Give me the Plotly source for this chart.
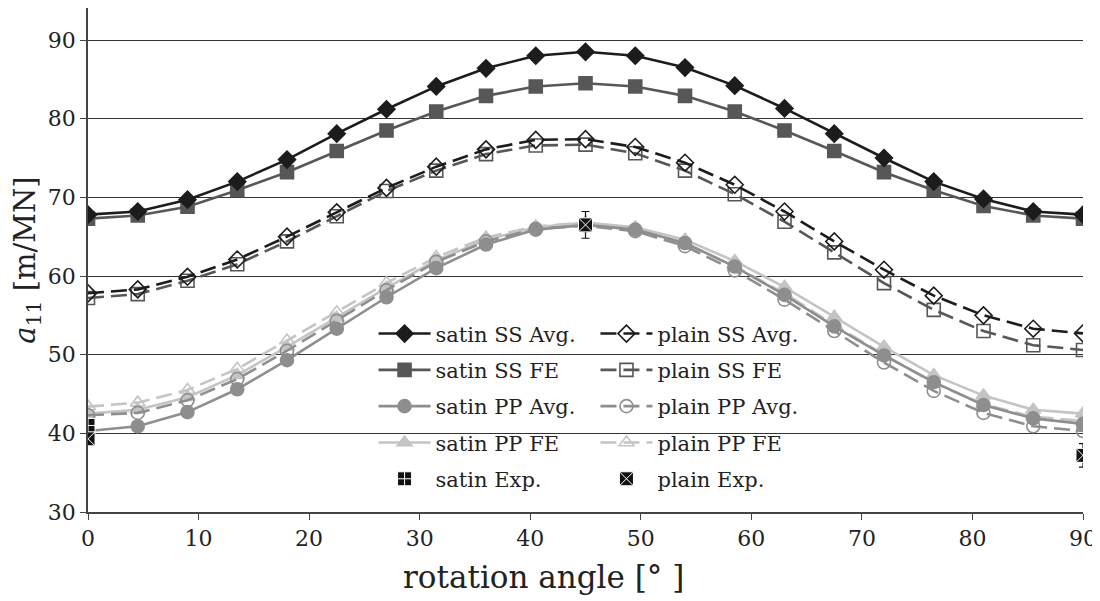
import plotly.graph_objects as go

angles = [0, 4.5, 9, 13.5, 18, 22.5, 27, 31.5, 36, 40.5, 45, 49.5, 54, 58.5, 63, 67.5, 72, 76.5, 81, 85.5, 90]

satin_ss_avg = [67.8, 68.2, 69.7, 72.0, 74.8, 78.1, 81.2, 84.1, 86.4, 88.0, 88.5, 88.0, 86.5, 84.2, 81.3, 78.1, 75.0, 72.0, 69.8, 68.2, 67.8]
satin_ss_fe = [67.3, 67.7, 68.8, 70.9, 73.2, 75.9, 78.5, 80.9, 82.9, 84.1, 84.5, 84.1, 82.9, 80.9, 78.5, 75.9, 73.2, 70.9, 68.9, 67.7, 67.3]
plain_ss_avg = [57.8, 58.3, 59.9, 62.1, 65.0, 68.1, 71.2, 73.9, 76.1, 77.3, 77.4, 76.4, 74.4, 71.6, 68.2, 64.4, 60.8, 57.5, 55.0, 53.3, 52.7]
plain_ss_fe = [57.2, 57.7, 59.4, 61.5, 64.4, 67.6, 70.8, 73.4, 75.5, 76.6, 76.7, 75.6, 73.4, 70.4, 66.9, 63.0, 59.1, 55.7, 53.0, 51.2, 50.6]
satin_pp_avg = [40.3, 40.9, 42.7, 45.6, 49.3, 53.3, 57.3, 61.0, 64.0, 65.9, 66.5, 65.9, 64.2, 61.2, 57.6, 53.6, 49.9, 46.5, 43.6, 41.9, 41.2]
satin_pp_fe = [42.5, 43.0, 44.6, 47.4, 51.0, 54.7, 58.5, 62.0, 64.6, 66.2, 66.8, 66.2, 64.6, 61.9, 58.6, 54.8, 51.0, 47.4, 44.8, 43.0, 42.5]
plain_pp_avg = [42.3, 42.6, 44.2, 46.9, 50.5, 54.3, 58.2, 61.8, 64.4, 66.0, 66.4, 65.7, 63.8, 60.7, 57.0, 53.0, 49.0, 45.4, 42.6, 40.9, 40.3]
plain_pp_fe = [43.4, 43.9, 45.5, 48.2, 51.8, 55.4, 59.1, 62.4, 64.9, 66.3, 66.8, 66.0, 64.1, 61.2, 57.8, 53.8, 50.0, 46.4, 43.7, 42.1, 41.6]

satin_exp_x = [0]
satin_exp_y = [41.0]
satin_exp_err = [0.0]
plain_exp_x = [0, 45, 90]
plain_exp_y = [39.3, 66.5, 37.2]
plain_exp_err = [0.0, 1.7, 1.5]

y_ticks = [30, 40, 50, 60, 70, 80, 90]
x_ticks = [0, 10, 20, 30, 40, 50, 60, 70, 80, 90]

x_title = "rotation angle [° ]"
y_title = "<i>a</i><sub>11</sub> [m/MN]"

C_BLACK = "#1c1c1c"
C_DARK = "#575757"
C_MED = "#8e8e8e"
C_LIGHT = "#c4c4c4"
DASH = "16px,7px"
FONT = "DejaVu Serif"

fig = go.Figure()

def add_line(name, y, color, symbol, dashed, legend, rank):
    fig.add_trace(go.Scatter(
        x=angles, y=y, name=name, mode="lines+markers",
        line=dict(color=color, width=2.6, dash=DASH if dashed else "solid"),
        marker=dict(symbol=symbol, size=13, color=color,
                    line=dict(color=color, width=1.6)),
        legend=legend, legendrank=rank, legendgroup=name,
    ))

add_line("satin PP FE", satin_pp_fe, C_LIGHT, "triangle-up", False, "legend", 4)
add_line("plain PP FE", plain_pp_fe, C_LIGHT, "triangle-up-open", True, "legend2", 4)
add_line("satin PP Avg.", satin_pp_avg, C_MED, "circle", False, "legend", 3)
add_line("plain PP Avg.", plain_pp_avg, C_MED, "circle-open", True, "legend2", 3)
add_line("satin SS FE", satin_ss_fe, C_DARK, "square", False, "legend", 2)
add_line("plain SS FE", plain_ss_fe, C_DARK, "square-open", True, "legend2", 2)
add_line("satin SS Avg.", satin_ss_avg, C_BLACK, "diamond", False, "legend", 1)
add_line("plain SS Avg.", plain_ss_avg, C_BLACK, "diamond-open", True, "legend2", 1)

fig.add_trace(go.Scatter(
    x=satin_exp_x, y=satin_exp_y, name="satin Exp.", mode="markers",
    marker=dict(symbol="square-cross", size=14, color="#111111",
                line=dict(color="white", width=1)),
    error_y=dict(type="data", array=satin_exp_err, color="#111111", thickness=1.2, width=4),
    legend="legend", legendrank=5, legendgroup="satin Exp.",
))
fig.add_trace(go.Scatter(
    x=plain_exp_x, y=plain_exp_y, name="plain Exp.", mode="markers",
    marker=dict(symbol="square-x", size=14, color="#111111",
                line=dict(color="white", width=1)),
    error_y=dict(type="data", array=plain_exp_err, color="#111111", thickness=1.2, width=4),
    legend="legend2", legendrank=5, legendgroup="plain Exp.",
))

leg_common = dict(
    bgcolor="rgba(0,0,0,0)", borderwidth=0, font=dict(family=FONT, size=21, color="#222"),
    yanchor="top", xanchor="left", tracegroupgap=6, traceorder="grouped",
    itemwidth=52,
)
# page body has an 8px offset; margins compensate so the plot area sits where the reference has it
fig.update_layout(
    width=1092, height=593,
    margin=dict(l=80, r=17, t=0, b=89, autoexpand=False),
    paper_bgcolor="white", plot_bgcolor="white",
    font=dict(family=FONT, size=22, color="#222"),
    legend=dict(x=0.287, y=0.394, **leg_common),
    legend2=dict(x=0.510, y=0.394, **leg_common),
    xaxis=dict(
        range=[0, 90], tickvals=x_ticks, showgrid=False, zeroline=False, automargin=False,
        showline=True, linecolor="#444", linewidth=1.5,
        ticks="outside", ticklen=6, tickcolor="#444",
        tickfont=dict(family=FONT, size=22),
    ),
    yaxis=dict(
        range=[30, 94.07], tickvals=y_ticks, showgrid=True, gridcolor="#333", gridwidth=1,
        zeroline=False, showline=True, linecolor="#444", linewidth=1.5, automargin=False,
        ticks="outside", ticklen=6, tickcolor="#444",
        tickfont=dict(family=FONT, size=22),
        title=dict(text=y_title, font=dict(family=FONT, size=29), standoff=6),
    ),
    shapes=[dict(type="rect", xref="paper", yref="paper", layer="between",
                 x0=0.278, x1=0.7226, y0=0.06, y1=0.37,
                 fillcolor="white", line=dict(width=0))],
    annotations=[dict(text=x_title, xref="paper", yref="paper", x=0.458, y=-0.128,
                      xanchor="center", yanchor="middle", showarrow=False,
                      font=dict(family=FONT, size=31, color="#222"))],
)

fig.write_html("out.html")
